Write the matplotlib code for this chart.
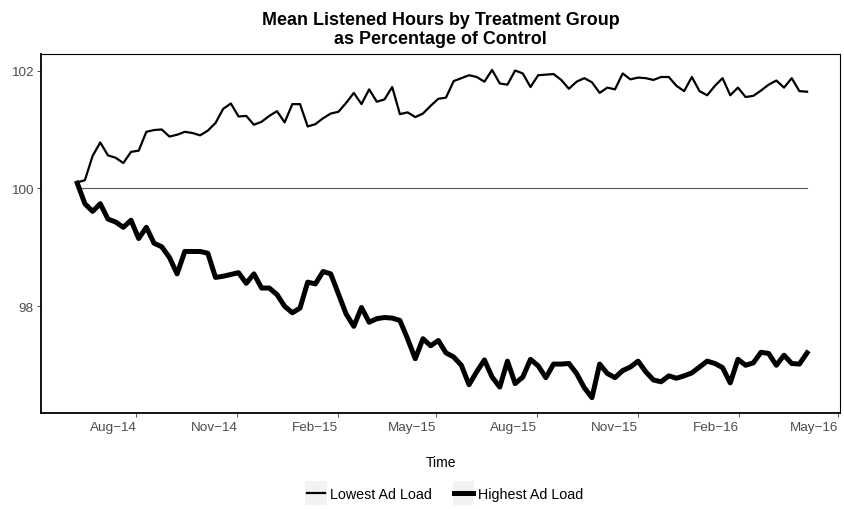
import numpy as np
import pandas as pd
import matplotlib
matplotlib.use("Agg")
import matplotlib.pyplot as plt
import matplotlib.dates as mdates
from matplotlib.patches import Rectangle
from matplotlib.legend_handler import HandlerLine2D

plt.rcParams['font.family'] = ['Liberation Sans', 'DejaVu Sans']

# weekly observations, first week of June 2014 through early April 2016
weeks = pd.date_range("2014-06-08", periods=96, freq="7D")

# mean listened hours as % of control
lowest_ad_load = [
    100.10, 100.14, 100.55, 100.78, 100.56, 100.52, 100.43, 100.62, 100.64, 100.96,
    100.99, 101.00, 100.88, 100.91, 100.96, 100.94, 100.90, 100.98, 101.11, 101.35,
    101.44, 101.22, 101.23, 101.08, 101.13, 101.23, 101.31, 101.12, 101.43, 101.43,
    101.05, 101.09, 101.19, 101.27, 101.30, 101.45, 101.62, 101.43, 101.68, 101.47,
    101.51, 101.72, 101.26, 101.29, 101.21, 101.27, 101.40, 101.52, 101.54, 101.82,
    101.87, 101.92, 101.89, 101.81, 102.01, 101.78, 101.76, 102.00, 101.95, 101.72,
    101.92, 101.93, 101.94, 101.84, 101.69, 101.81, 101.87, 101.80, 101.62, 101.71,
    101.68, 101.95, 101.85, 101.88, 101.87, 101.84, 101.89, 101.89, 101.74, 101.65,
    101.89, 101.65, 101.58, 101.74, 101.87, 101.58, 101.71, 101.55, 101.57, 101.66,
    101.76, 101.83, 101.71, 101.87, 101.65, 101.64,
]
highest_ad_load = [
    100.09, 99.74, 99.61, 99.74, 99.48, 99.43, 99.34, 99.46, 99.15, 99.34,
    99.07, 99.01, 98.83, 98.55, 98.93, 98.93, 98.93, 98.90, 98.49, 98.51,
    98.54, 98.57, 98.39, 98.55, 98.31, 98.31, 98.20, 98.00, 97.89, 97.97,
    98.41, 98.38, 98.59, 98.55, 98.21, 97.87, 97.66, 97.98, 97.73, 97.79,
    97.81, 97.80, 97.76, 97.45, 97.11, 97.45, 97.33, 97.42, 97.21, 97.14,
    97.00, 96.67, 96.89, 97.09, 96.80, 96.63, 97.07, 96.69, 96.80, 97.10,
    96.99, 96.79, 97.02, 97.02, 97.03, 96.86, 96.62, 96.45, 97.02, 96.86,
    96.79, 96.91, 96.97, 97.07, 96.89, 96.75, 96.72, 96.82, 96.78, 96.82,
    96.87, 96.97, 97.07, 97.03, 96.96, 96.70, 97.10, 97.00, 97.04, 97.22,
    97.20, 97.00, 97.17, 97.03, 97.02, 97.21,
]
control = [100.0] * len(weeks)

tick_months = ["2014-08-01", "2014-11-01", "2015-02-01", "2015-05-01",
               "2015-08-01", "2015-11-01", "2016-02-01", "2016-05-01"]
tick_labels = ["Aug\u221214", "Nov\u221214", "Feb\u221215", "May\u221215",
               "Aug\u221215", "Nov\u221215", "Feb\u221216", "May\u221216"]
y_ticks = [98, 100, 102]


class KeyWithBg(HandlerLine2D):
    # ggplot style grey box behind the legend key
    def create_artists(self, legend, orig_handle, xdescent, ydescent,
                       width, height, fontsize, trans):
        bg = Rectangle((-xdescent - 1, -ydescent - 4), width + 2, height + 8,
                       facecolor="#f2f2f2", edgecolor="none", transform=trans)
        arts = super().create_artists(legend, orig_handle, xdescent, ydescent,
                                      width, height, fontsize, trans)
        return [bg] + list(arts)


fig = plt.figure(figsize=(8.44, 5.10), dpi=100)
ax = fig.add_axes([41 / 844, 1 - 414 / 510, 799 / 844, 359 / 510])

ax.plot(weeks, control, color="#555555", lw=0.8)
l1, = ax.plot(weeks, lowest_ad_load, color="black", lw=1.6, label="Lowest Ad Load",
              solid_joinstyle="round")
l2, = ax.plot(weeks, highest_ad_load, color="black", lw=3.6, label="Highest Ad Load",
              solid_joinstyle="round")

ax.set_xlim(weeks[0] - pd.Timedelta(days=33), weeks[-1] + pd.Timedelta(days=30))
ax.set_ylim(96.19, 102.28)

ax.set_xticks([mdates.datestr2num(d) for d in tick_months])
ax.set_xticklabels(tick_labels, ha="right")
ax.set_yticks(y_ticks)
ax.set_yticklabels([str(v) for v in y_ticks])
ax.tick_params(axis="both", length=3, width=0.6, color="#333333",
               labelsize=9.7, labelcolor="#4d4d4d", pad=2.5)

for side in ["left", "bottom"]:
    ax.spines[side].set_linewidth(1.3)
for side in ["top", "right"]:
    ax.spines[side].set_linewidth(0.8)
for s in ax.spines.values():
    s.set_color("black")

ax.set_xlabel("Time", fontsize=10, labelpad=16)
ax.set_title("Mean Listened Hours by Treatment Group\nas Percentage of Control",
             fontsize=12.9, fontweight="bold", pad=8, linespacing=1.15)

fig.legend(handles=[l1, l2], loc="center", bbox_to_anchor=(445 / 844, 1 - 495 / 510),
           ncol=2, frameon=False, fontsize=10.3, handlelength=1.3, handleheight=1.0,
           handletextpad=0.35, columnspacing=1.55,
           handler_map={l1: KeyWithBg(), l2: KeyWithBg()})

fig.savefig("out.png", dpi=100)
